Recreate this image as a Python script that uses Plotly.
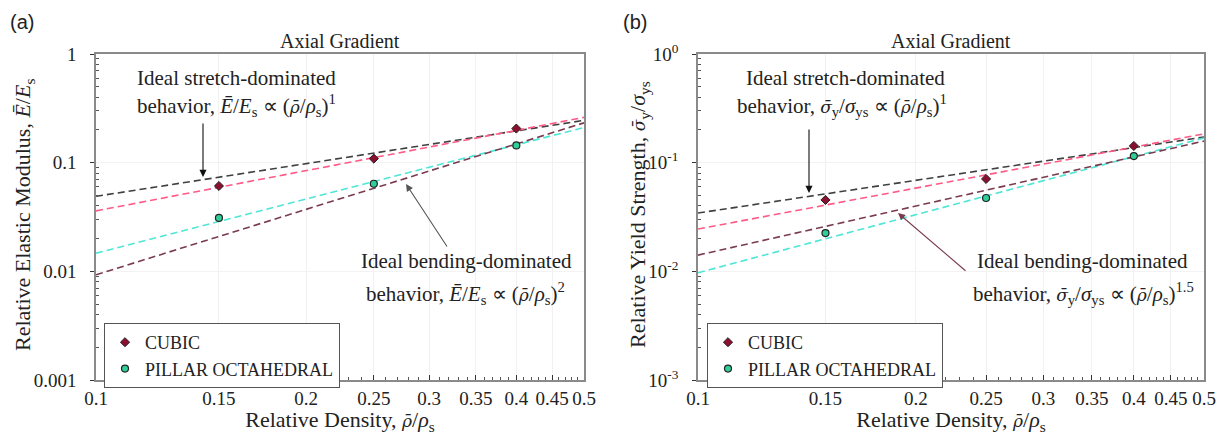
import plotly.graph_objects as go

W, H = 1223, 435

# ---------------- data ----------------
rho = [0.15, 0.25, 0.4]
rho_ends = [0.1, 0.5]

# (a) Relative elastic modulus
a_cubic = [0.061, 0.109, 0.206]
a_pillar = [0.031, 0.064, 0.144]
a_stretch_ideal = [0.049, 0.245]
a_bend_ideal = [0.0093, 0.2325]
a_cubic_fit = [0.036, 0.261]
a_pillar_fit = [0.0147, 0.211]

# (b) Relative yield strength
b_cubic = [0.0454, 0.0708, 0.1425]
b_pillar = [0.0225, 0.0473, 0.115]
b_stretch_ideal = [0.0344, 0.172]
b_bend_ideal = [0.0141, 0.158]
b_cubic_fit = [0.0245, 0.184]
b_pillar_fit = [0.0097, 0.169]

x_tickvals = [0.1, 0.15, 0.2, 0.25, 0.3, 0.35, 0.4, 0.45, 0.5]
x_ticktext = ["0.1", "0.15", "0.2", "0.25", "0.3", "0.35", "0.4", "0.45", "0.5"]
x_minor = [round(0.1 + 0.01 * i, 2) for i in range(1, 40)]
y_tickvals = [0.001, 0.01, 0.1, 1]
y_minor = [m * d for d in (0.001, 0.01, 0.1) for m in range(2, 10)]
a_yticktext = ["0.001", "0.01", "0.1", "1"]
b_yticktext = ["10<sup>-3</sup>", "10<sup>-2</sup>", "10<sup>-1</sup>", "10<sup>0</sup>"]

SERIF = "Liberation Serif"
FS_TICK = 19
FS_TXT = 21
FS_AX = 22

C_BLACK = "#404040"
C_BEND = "#7a3b4f"
C_PINK = "#ff5a86"
C_CYAN = "#4fe6d6"
C_CUBIC = "#8b1030"
C_PILLAR = "#2fcf9a"
DASH = "7px,4px"

# glyphs with combining bars rendered in DejaVu Serif
RHOBAR = "<span style='font-family:DejaVu Serif;font-size:17px'><i>ρ̄</i></span>"
SIGBAR = "<span style='font-family:DejaVu Serif;font-size:17px'><i>σ̄</i></span>"
RHO = "<i>ρ</i>"
SIG = "<i>σ</i>"

X_TITLE = f"Relative Density, {RHOBAR}/{RHO}<sub>s</sub>"
A_Y_TITLE = "Relative Elastic Modulus, <i>Ē</i>/<i>E</i><sub>s</sub>"
B_Y_TITLE = f"Relative Yield Strength, {SIGBAR}<sub>y</sub>/{SIG}<sub>ys</sub>"

fig = go.Figure()


def add_panel(xa, ya, legend, cubic, pillar, stretch, bend, cfit, pfit):
    common = dict(xaxis=xa, yaxis=ya)
    fig.add_trace(go.Scatter(x=rho_ends, y=stretch, mode="lines", showlegend=False,
                             line=dict(color=C_BLACK, width=1.6, dash=DASH), **common))
    fig.add_trace(go.Scatter(x=rho_ends, y=cfit, mode="lines", showlegend=False,
                             line=dict(color=C_PINK, width=1.6, dash=DASH), **common))
    fig.add_trace(go.Scatter(x=rho_ends, y=pfit, mode="lines", showlegend=False,
                             line=dict(color=C_CYAN, width=1.6, dash=DASH), **common))
    fig.add_trace(go.Scatter(x=rho_ends, y=bend, mode="lines", showlegend=False,
                             line=dict(color=C_BEND, width=1.6, dash=DASH), **common))
    fig.add_trace(go.Scatter(x=rho, y=cubic, mode="markers", name="CUBIC", legend=legend,
                             marker=dict(symbol="diamond", size=7, color=C_CUBIC,
                                         line=dict(color="#222", width=1)), **common))
    fig.add_trace(go.Scatter(x=rho, y=pillar, mode="markers", name="PILLAR OCTAHEDRAL",
                             legend=legend,
                             marker=dict(symbol="circle", size=7, color=C_PILLAR,
                                         line=dict(color="#222", width=1.2)), **common))


add_panel("x", "y", "legend", a_cubic, a_pillar, a_stretch_ideal, a_bend_ideal,
          a_cubic_fit, a_pillar_fit)
add_panel("x2", "y2", "legend2", b_cubic, b_pillar, b_stretch_ideal, b_bend_ideal,
          b_cubic_fit, b_pillar_fit)


def px(x):
    return x / W


def py(y):
    return 1 - y / H


def xaxis_cfg(domain, anchor):
    return dict(domain=domain, anchor=anchor, type="log", range=[-1, -0.30103],
                tickvals=x_tickvals, ticktext=x_ticktext, ticks="inside", ticklen=5,
                ticklabelstandoff=0,
                tickcolor="#333", showline=True, linecolor="#8a8a8a", linewidth=1.5,
                mirror=True, showgrid=True, gridcolor="#f1f1f1", zeroline=False,
                tickfont=dict(family=SERIF, size=FS_TICK, color="#222"),
                title=dict(text=X_TITLE, standoff=7,
                           font=dict(family=SERIF, size=FS_AX, color="#222")),
                automargin=False,
                minor=dict(tickvals=x_minor, ticks="inside", ticklen=3, tickcolor="#555",
                           showgrid=False))


def yaxis_cfg(domain, anchor, ticktext):
    return dict(domain=domain, anchor=anchor, type="log", range=[-3, 0],
                tickvals=y_tickvals, ticktext=ticktext, ticks="outside", ticklen=4,
                ticklabelstandoff=10,
                tickcolor="#333", showline=True, linecolor="#8a8a8a", linewidth=1.5,
                mirror=True, showgrid=True, gridcolor="#f3f3f3", zeroline=False,
                tickfont=dict(family=SERIF, size=FS_TICK, color="#222"),
                automargin=False,
                minor=dict(tickvals=y_minor, ticks="inside", ticklen=3, tickcolor="#555",
                           showgrid=False))


ydom = [py(380), py(54)]
leg_common = dict(xanchor="left", yanchor="top", bordercolor="#555", borderwidth=1,
                  bgcolor="white", font=dict(family=SERIF, size=18, color="#222"),
                  tracegroupgap=0)
fig.update_layout(
    width=W, height=H, margin=dict(l=0, r=0, t=0, b=0),
    paper_bgcolor="white", plot_bgcolor="white",
    xaxis=xaxis_cfg([px(96), px(584)], "y"),
    yaxis=yaxis_cfg(ydom, "x", a_yticktext),
    xaxis2=xaxis_cfg([px(698), px(1204)], "y2"),
    yaxis2=yaxis_cfg(ydom, "x2", b_yticktext),
    legend=dict(x=px(104), y=py(323), **leg_common),
    legend2=dict(x=px(707), y=py(323), **leg_common),
)

anns = []


def text(x, y, s, size=FS_TXT, family=SERIF, angle=0, xanchor="center"):
    anns.append(dict(x=px(x), y=py(y), xref="paper", yref="paper", text=s, showarrow=False,
                     xanchor=xanchor, yanchor="middle", textangle=angle,
                     font=dict(family=family, size=size, color="#222")))


def arrow(hx, hy, tx, ty, color):
    anns.append(dict(x=px(hx), y=py(hy), xref="paper", yref="paper", text="",
                     showarrow=True, ax=tx - hx, ay=ty - hy, arrowhead=2, arrowsize=1.3,
                     arrowwidth=1.1, arrowcolor=color))


# panel labels
text(8, 22, "(a)", size=20, family="Liberation Sans", xanchor="left")
text(621, 22, "(b)", size=20, family="Liberation Sans", xanchor="left")

# titles
text(340, 41, "Axial Gradient", size=20)
text(951, 41, "Axial Gradient", size=20)

# y-axis titles
text(24, 215, A_Y_TITLE, angle=-90, size=FS_AX)
text(639, 215, B_Y_TITLE, angle=-90, size=FS_AX)

E_RATIO = "<i>Ē</i>/<i>E</i><sub>s</sub>"
S_RATIO = f"{SIGBAR}<sub>y</sub>/{SIG}<sub>ys</sub>"
R_RATIO = f"({RHOBAR}/{RHO}<sub>s</sub>)"

# panel (a) annotations
text(236, 78, "Ideal stretch-dominated")
text(236, 105, f"behavior, {E_RATIO} ∝ {R_RATIO}<sup>1</sup>")
arrow(203, 177, 203, 122, "#111")
text(466, 261, "Ideal bending-dominated")
text(465, 293, f"behavior, {E_RATIO} ∝ {R_RATIO}<sup>2</sup>")
arrow(406, 184, 448, 248, "#555")

# panel (b) annotations
text(845, 78, "Ideal stretch-dominated")
text(842, 105, f"behavior, {S_RATIO} ∝ {R_RATIO}<sup>1</sup>")
arrow(809, 193, 809, 128, "#111")
text(1082, 261, "Ideal bending-dominated")
text(1083, 293, f"behavior, {S_RATIO} ∝ {R_RATIO}<sup>1.5</sup>")
arrow(898, 213, 967, 272, "#7a3b4f")

fig.update_layout(annotations=anns)

fig.write_html("out.html")
